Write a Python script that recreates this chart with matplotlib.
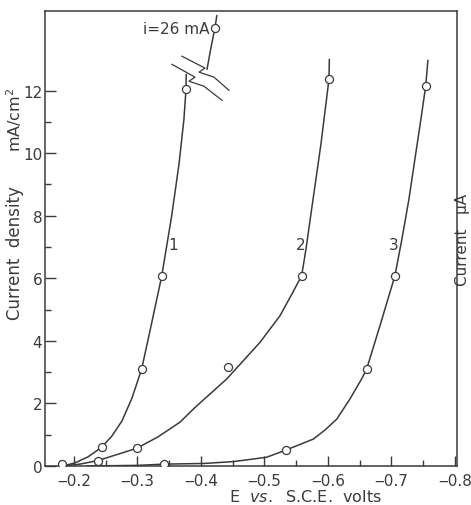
import numpy as np
import matplotlib
matplotlib.use('Agg')
import matplotlib.pyplot as plt
from matplotlib.ticker import FixedLocator

# curve traces (E in volts, current density in mA/cm2)
c1_x = [-0.1827, -0.2016, -0.222, -0.2436, -0.2598, -0.2756, -0.2913, -0.3066, -0.3213, -0.3381,
        -0.3539, -0.3654, -0.3732, -0.3764, -0.3768]
c1_y = [0.0, 0.10, 0.29, 0.60, 0.96, 1.44, 2.17, 3.10, 4.47, 6.06, 8.0, 9.65, 11.09, 12.04, 12.52]
# part of curve 1 above the axis break
c1_top_x = [-0.4095, -0.416, -0.422, -0.425]
c1_top_y = [12.68, 13.4, 14.0, 14.4]

c2_x = [-0.183, -0.2094, -0.2373, -0.2987, -0.3323, -0.3669, -0.3906, -0.4405, -0.4929, -0.5244,
        -0.5433, -0.5586, -0.5654, -0.5732, -0.5811, -0.589, -0.5954, -0.5978, -0.6016, -0.6022]
c2_y = [0.0, 0.06, 0.17, 0.565, 0.93, 1.40, 1.87, 2.78, 3.95, 4.80,
        5.50, 6.08, 6.93, 8.05, 9.17, 10.29, 11.34, 11.73, 12.36, 13.0]

c3_x = [-0.22, -0.30, -0.342, -0.404, -0.451, -0.5035, -0.534, -0.577, -0.5953, -0.614, -0.6346,
        -0.653, -0.661, -0.6819, -0.7055, -0.7165, -0.7276, -0.737, -0.7465, -0.7539, -0.7575]
c3_y = [0.0, 0.02, 0.06, 0.08, 0.14, 0.28, 0.51, 0.86, 1.15, 1.5, 2.14,
        2.78, 3.1, 4.48, 6.08, 7.25, 8.53, 9.81, 11.09, 12.13, 12.97]

# measured points (open circles)
p1_x = [-0.181, -0.244, -0.3066, -0.338, -0.376, -0.422]
p1_y = [0.06, 0.62, 3.10, 6.06, 12.04, 14.0]
p2_x = [-0.2373, -0.2987, -0.4425, -0.5586, -0.6016]
p2_y = [0.17, 0.565, 3.15, 6.08, 12.36]
p3_x = [-0.342, -0.534, -0.661, -0.7055, -0.7539]
p3_y = [0.06, 0.51, 3.1, 6.08, 12.15]

# curve labels
curve_names = ['1', '2', '3']
name_x = [-0.3564, -0.557, -0.703]
name_y = [7.09, 7.09, 7.09]

# axis break marks (two zig-zag lines)
brk_up_x = [-0.370, -0.4063, -0.3969, -0.4205, -0.4441]
brk_up_y = [13.10, 12.72, 12.59, 12.43, 12.01]
brk_lo_x = [-0.3543, -0.3906, -0.3811, -0.4047, -0.4331]
brk_lo_y = [12.84, 12.43, 12.30, 12.14, 11.69]

# ticks
x_major = [-0.2, -0.3, -0.4, -0.5, -0.6, -0.7, -0.8]
x_labels = ['\u20120.2', '\u20120.3', '\u20120.4', '\u20120.5', '\u20120.6', '\u20120.7', '\u20120.8']
x_minor = [-0.25, -0.35, -0.45, -0.55, -0.65, -0.75]
y_major = [0, 2, 4, 6, 8, 10, 12]
y_minor = [1, 3, 5, 7, 9, 11]

ink = '#3a3a3a'
plt.rcParams['font.family'] = 'DejaVu Sans'

fig = plt.figure(figsize=(4.71, 5.06), dpi=100)
ax = fig.add_axes([0.0955, 0.0771, 0.8745, 0.8989])

# curves
for xs, ys in [(c1_x, c1_y), (c1_top_x, c1_top_y), (c2_x, c2_y), (c3_x, c3_y)]:
    ax.plot(xs, ys, color=ink, lw=1.1, solid_capstyle='round', solid_joinstyle='round')
for xs, ys in [(brk_up_x, brk_up_y), (brk_lo_x, brk_lo_y)]:
    ax.plot(xs, ys, color=ink, lw=0.9)

# points
for xs, ys in [(p1_x, p1_y), (p2_x, p2_y), (p3_x, p3_y)]:
    ax.plot(xs, ys, 'o', ms=5.8, mfc='white', mec=ink, mew=0.9, zorder=3)

for name, x, y in zip(curve_names, name_x, name_y):
    ax.text(x, y, name, fontsize=11, color=ink, ha='center', va='center')

ax.text(-0.414, 14.0, 'i=26 mA', fontsize=11, color=ink, ha='right', va='center')

# axes
ax.set_xlim(-0.1543, -0.8031)
ax.set_ylim(0, 14.54)
ax.set_xticks(x_major)
ax.set_xticklabels(x_labels)
ax.xaxis.set_minor_locator(FixedLocator(x_minor))
ax.set_yticks(y_major)
ax.yaxis.set_minor_locator(FixedLocator(y_minor))
ax.tick_params(axis='x', which='major', direction='in', length=7, width=1.0, pad=5, labelsize=11, colors=ink)
ax.tick_params(axis='x', which='minor', direction='in', length=4.5, width=1.0, colors=ink)
ax.tick_params(axis='y', which='major', direction='in', length=8, width=1.0, pad=2, labelsize=11, colors=ink)
ax.tick_params(axis='y', which='minor', direction='in', length=4.5, width=1.0, colors=ink)
for s in ax.spines.values():
    s.set_color(ink)
    s.set_linewidth(1.1)

# axis labels
fig.text(0.031, 1 - 253 / 506, 'Current  density', rotation=90, fontsize=12, color=ink, ha='center', va='center')
fig.text(0.029, 1 - 120 / 506, 'mA/cm$^2$', rotation=90, fontsize=11.5, color=ink, ha='center', va='center')
fig.text(305 / 471, 1 - 497 / 506, r'E  $\it{vs.}$  S.C.E.  volts', fontsize=11.5, color=ink, ha='center', va='center')
# label of the next panel, cut off by the page edge
fig.text(463 / 471, 1 - 240 / 506, 'Current   \u03bcA', rotation=90, fontsize=11, color=ink, ha='center', va='center')

plt.savefig('out.png', dpi=100)
